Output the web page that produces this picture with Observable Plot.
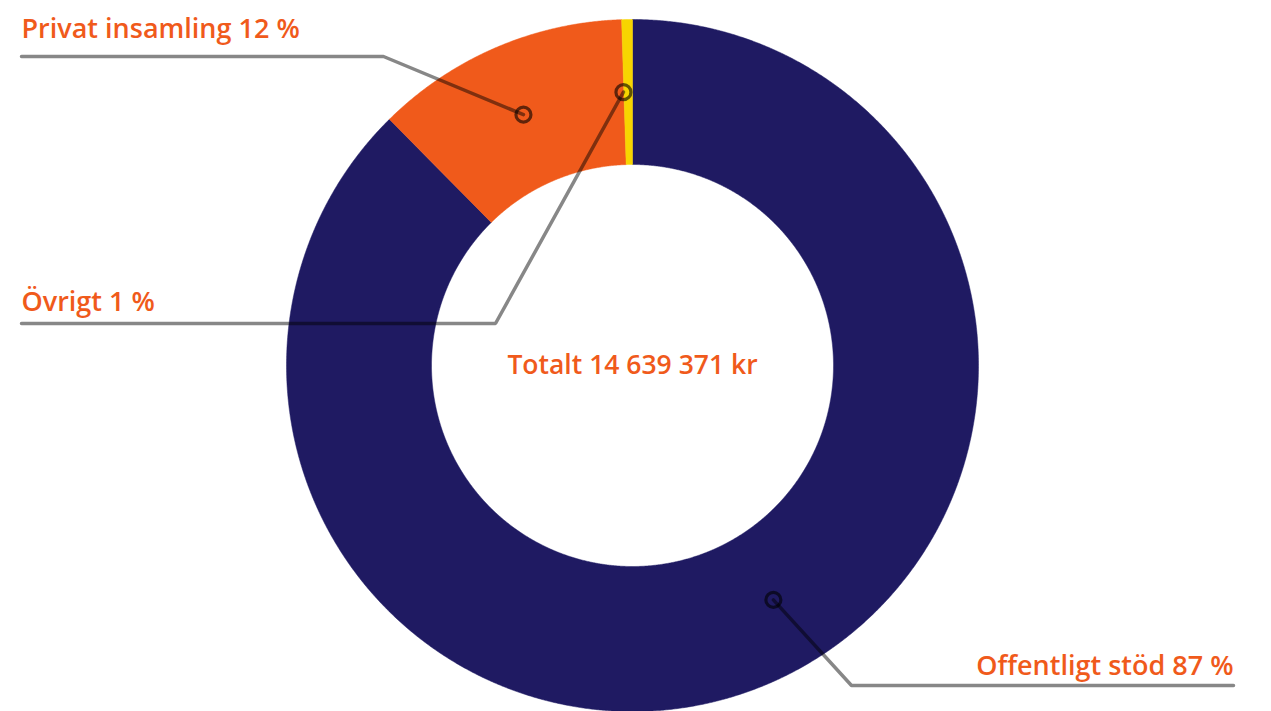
<!DOCTYPE html>
<html>
<head>
<meta charset="utf-8">
<script src="https://cdn.jsdelivr.net/npm/d3@7"></script>
<script src="https://cdn.jsdelivr.net/npm/@observablehq/plot@0.6"></script>
<style>
  html, body { margin: 0; padding: 0; background: #fff; }
  #chart svg { display: block; }
</style>
</head>
<body>
<div id="chart"></div>
<script>
// ---- data ----
const categories = ["Offentligt stöd", "Privat insamling", "Övrigt"];
const shares = [87.6, 11.9, 0.5];        // share of total (%)
const labelPct = [87, 12, 1];            // percentages as printed in labels
const totalLabel = "14 639 371";
const colors = ["#1f1a62", "#f05a1b", "#f7d500"];

// ---- layout ----
const W = 1271, H = 711;
const cx = 632, cy = 365, rOuter = 346, rInner = 201;
const rMid = (rOuter + rInner) / 2;
const leaderLayout = [
  {anchorAngle: 149,   elbow: [851, 685], end: [1233, 685], label: [1233, 674], textAnchor: "end"},
  {anchorAngle: 336.5, elbow: [383, 56],  end: [21, 56],    label: [21, 37],    textAnchor: "start"},
  {anchorAngle: 358.1, elbow: [495, 323], end: [21, 323],   label: [21, 310],   textAnchor: "start"}
];

const pt = (deg, r) => {
  const a = deg * Math.PI / 180;
  return [cx + r * Math.sin(a), cy - r * Math.cos(a)];
};

// slices as polygons derived from shares
const sum = d3.sum(shares);
let acc = 0;
const arcPts = [];
categories.forEach((c, i) => {
  const a0 = acc / sum * 360, a1 = (acc + shares[i]) / sum * 360;
  acc += shares[i];
  const n = Math.max(4, Math.ceil((a1 - a0) * 4));
  const pts = [];
  for (let k = 0; k <= n; k++) pts.push(pt(a0 + (a1 - a0) * k / n, rOuter));
  for (let k = n; k >= 0; k--) pts.push(pt(a0 + (a1 - a0) * k / n, rInner));
  pts.push(pts[0]);
  pts.forEach(([x, y]) => arcPts.push({cat: c, x, y, color: colors[i]}));
});

const leaderPts = [];
const anchors = [];
const labels = [];
categories.forEach((c, i) => {
  const L = leaderLayout[i];
  const [ax, ay] = pt(L.anchorAngle, rMid);
  leaderPts.push({cat: c, x: L.end[0], y: L.end[1]});
  leaderPts.push({cat: c, x: L.elbow[0], y: L.elbow[1]});
  leaderPts.push({cat: c, x: ax, y: ay});
  anchors.push({cat: c, x: ax, y: ay});
  labels.push({text: `${c} ${labelPct[i]} %`, x: L.label[0], y: L.label[1], anchor: L.textAnchor});
});

const font = "'Open Sans', 'Noto Sans', sans-serif";
const orange = "#f05a1b";
const fs = 27;

const chart = Plot.plot({
  width: W, height: H,
  margin: 0,
  style: {background: "#fff", fontFamily: font},
  x: {domain: [0, W], range: [0, W], axis: null},
  y: {domain: [0, H], range: [0, H], axis: null},
  marks: [
    Plot.line(arcPts, {x: "x", y: "y", z: "cat", fill: "color", stroke: "color", strokeWidth: 0.5, curve: "linear"}),
    Plot.line(leaderPts, {x: "x", y: "y", z: "cat", stroke: "#000", strokeOpacity: 0.47, strokeWidth: 3.5, strokeLinecap: "round", strokeLinejoin: "miter"}),
    Plot.dot(anchors, {x: "x", y: "y", r: 7.5, fill: "none", stroke: "#000", strokeOpacity: 0.6, strokeWidth: 3.2}),
    Plot.text(labels.filter(d => d.anchor === "start"), {x: "x", y: "y", text: "text", textAnchor: "start", lineAnchor: "bottom", fill: orange, fontSize: fs, fontWeight: 600}),
    Plot.text(labels.filter(d => d.anchor === "end"), {x: "x", y: "y", text: "text", textAnchor: "end", lineAnchor: "bottom", fill: orange, fontSize: fs, fontWeight: 600}),
    Plot.text([{t: `Totalt ${totalLabel} kr`}], {x: () => cx, y: () => cy, text: "t", textAnchor: "middle", lineAnchor: "middle", fill: orange, fontSize: 26.5, fontWeight: 600})
  ]
});
document.getElementById("chart").appendChild(chart);
</script>
</body>
</html>
